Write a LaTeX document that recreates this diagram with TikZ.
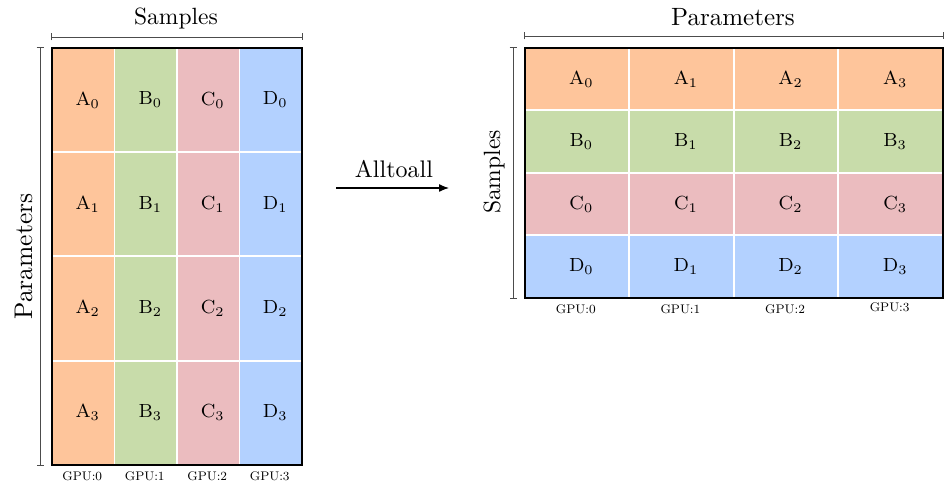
\documentclass[tikz,border=0pt]{standalone}
\usepackage{fontspec}
\newfontfamily\lmten{lmroman10-regular.otf}
\newfontfamily\lmeight{lmroman8-regular.otf}
\newfontfamily\lmsix{lmroman6-regular.otf}
\usetikzlibrary{arrows.meta}
\definecolor{cA}{HTML}{FEC59B}
\definecolor{cB}{HTML}{C8DCAA}
\definecolor{cC}{HTML}{EBBCBF}
\definecolor{cD}{HTML}{B3D1FF}
\newcommand{\cellL}[2]{{\lmeight\fontsize{19}{22}\selectfont #1\rlap{\raisebox{-2.9pt}{\lmsix\fontsize{13.3}{14}\selectfont #2}}}}
\tikzset{
  cell/.style={draw=white, line width=1.8pt, anchor=north west, inner sep=0pt},
  lcell/.style={cell, minimum width=62.5pt, minimum height=104.25pt},
  rcell/.style={cell, minimum width=104.625pt, minimum height=62.5pt},
  frame/.style={draw=black, line width=2.2pt, anchor=north west, inner sep=0pt},
  bracket/.style={draw=black!70, line width=0.9pt, {Bar[width=7pt]}-{Bar[width=7pt]}},
  gpulab/.style={font=\lmeight\fontsize{12.5}{14}\selectfont, anchor=base, inner sep=0pt},
  biglab/.style={anchor=base, inner sep=0pt},
}
\begin{document}
\begin{tikzpicture}[x=1pt,y=-1pt]
\useasboundingbox (0,0) rectangle (946,486);
% ---------- left grid ----------
\foreach \c/\col [count=\i from 0] in {A/cA,B/cB,C/cC,D/cD}{
  \foreach \r in {0,1,2,3}{
    \node[lcell, fill=\col] (L-\c-\r) at ({51+62.5*\i},{47+104.25*\r}) {};
    \node at (L-\c-\r.center) {\cellL{\c}{\r}};
  }
}
\node[frame, minimum width=250pt, minimum height=417pt] (Lframe) at (51,47) {};
\draw[bracket] ([yshift=10pt]Lframe.north west) -- ([yshift=10pt]Lframe.north east);
\draw[bracket] ([xshift=-11pt]Lframe.north west) -- ([xshift=-11pt]Lframe.south west);
\node[biglab, font=\lmten\fontsize{23.5}{26}\selectfont] (Ltop) at (176,25) {Samples};
\node[biglab, rotate=90, font=\lmten\fontsize{25.5}{28}\selectfont] (Lside) at (32,256.5) {Parameters};
\foreach \i in {0,1,2,3}{
  \node[gpulab] (LG\i) at ({82.25+62.5*\i},480.5) {GPU:\i};
}
% ---------- arrow ----------
\coordinate (arrS) at (336,188);
\coordinate (arrE) at (449,188);
\draw[line width=1.3pt, -{Latex[length=10pt,width=8pt]}] (arrS) -- (arrE);
\node[biglab, font=\lmten\fontsize{24}{27}\selectfont] (atoa) at (394,178) {Alltoall};
% ---------- right grid ----------
\foreach \c/\col [count=\r from 0] in {A/cA,B/cB,C/cC,D/cD}{
  \foreach \i in {0,1,2,3}{
    \node[rcell, fill=\col] (R-\c-\i) at ({523.5+104.625*\i},{47+62.5*\r}) {};
    \node at (R-\c-\i.center) {\cellL{\c}{\i}};
  }
}
\node[frame, minimum width=418.5pt, minimum height=250pt] (Rframe) at (523.5,47) {};
\draw[bracket] ([yshift=11pt]Rframe.north west) -- ([yshift=11pt]Rframe.north east);
\draw[bracket] ([xshift=-10.5pt]Rframe.north west) -- ([xshift=-10.5pt]Rframe.south west);
\node[biglab, font=\lmten\fontsize{25}{28}\selectfont] (Rtop) at (733,26) {Parameters};
\node[biglab, rotate=90, font=\lmten\fontsize{23.5}{26}\selectfont] (Rside) at (500,172) {Samples};
\foreach \i/\yy in {0/314,1/314,2/314,3/312}{
  \node[gpulab] (RG\i) at ({575.8+104.625*\i},\yy) {GPU:\i};
}
\end{tikzpicture}
\end{document}
